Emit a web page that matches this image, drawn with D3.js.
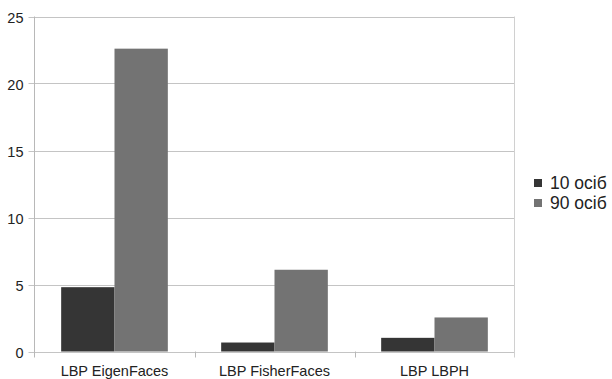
<!DOCTYPE html>
<html><head><meta charset="utf-8">
<script src="https://cdn.jsdelivr.net/npm/d3@7"></script>
<style>body{margin:0;background:#fff}svg{display:block}text{font-family:"Liberation Sans",Arial,sans-serif}</style>
</head><body>
<svg id="c" width="612" height="379"></svg>
<script>
const categories = ["LBP EigenFaces", "LBP FisherFaces", "LBP LBPH"];
const seriesNames = ["10 осіб", "90 осіб"];
const series10 = [4.8, 0.67, 1.02];
const series90 = [22.6, 6.1, 2.54];
const yTicks = [0, 5, 10, 15, 20, 25];
const colors = ["#353535", "#737373"];

const svg = d3.select("#c");
const L = 34.5, R = 514.5, T = 16.5, B = 351.5;
const x = d3.scaleBand().domain(categories).range([L, R]).paddingInner(0).paddingOuter(0);
const y = d3.scaleLinear().domain([0, 25]).range([B, T]);
const inner = d3.scaleBand().domain([0, 1]).range([0, x.bandwidth()]).paddingOuter(0.5).paddingInner(0);

// gridlines
svg.append("g").selectAll("line").data(yTicks).join("line")
  .attr("x1", L - 6).attr("x2", R).attr("y1", d => Math.round(y(d)) + 0.5).attr("y2", d => Math.round(y(d)) + 0.5)
  .attr("stroke", "#c4c4c4").attr("stroke-width", 1);

// bars
const data = categories.map((c, i) => [series10[i], series90[i]]);
const g = svg.append("g");
categories.forEach((c, i) => {
  g.selectAll(null).data(data[i]).join("rect")
    .attr("x", (d, j) => x(c) + inner(j))
    .attr("width", inner.bandwidth())
    .attr("y", d => y(d))
    .attr("height", d => y(0) - y(d))
    .attr("fill", (d, j) => colors[j]);
});

// y axis
const ya = d3.axisLeft(y).tickValues(yTicks).tickSize(0).tickPadding(11);
const yg = svg.append("g").attr("transform", `translate(${L},0)`).call(ya);
yg.select(".domain").remove();
yg.selectAll("text").attr("font-size", 14.5).attr("fill", "#222").attr("dy", "0.42em");
svg.append("line").attr("x1", L).attr("x2", L).attr("y1", T).attr("y2", B + 6).attr("stroke", "#b8b8b8");
svg.append("line").attr("x1", R).attr("x2", R).attr("y1", T).attr("y2", B + 6).attr("stroke", "#d0d0d0");

// x axis
const bounds = categories.map(c => x(c)).concat([x.range()[1]]);
svg.append("g").selectAll("line").data(bounds.slice(1, -1)).join("line")
  .attr("x1", d => Math.round(d) + 0.5).attr("x2", d => Math.round(d) + 0.5)
  .attr("y1", B).attr("y2", B + 6).attr("stroke", "#b8b8b8");
const xa = d3.axisBottom(x).tickSize(0).tickPadding(14);
const xg = svg.append("g").attr("transform", `translate(0,${B})`).call(xa);
xg.select(".domain").remove();
xg.selectAll("text").attr("font-size", 14.5).attr("fill", "#222");

// legend
const lg = svg.append("g");
seriesNames.forEach((n, i) => {
  const yy = 183 + i * 20;
  lg.append("rect").attr("x", 534).attr("y", yy - 4).attr("width", 8).attr("height", 8).attr("fill", colors[i]);
  lg.append("text").attr("x", 550).attr("y", yy).attr("dy", "0.36em").attr("font-size", 17.5).attr("fill", "#222").text(n);
});
</script>
</body></html>
